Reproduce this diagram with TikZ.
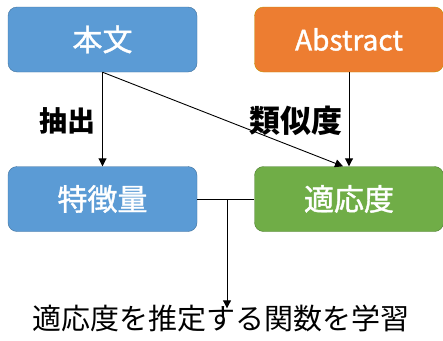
\documentclass[tikz,border=0pt]{standalone}
\usepackage{fontspec}
\setmainfont{Noto Sans CJK JP}
\newfontfamily\boxfont{Noto Sans CJK JP}[FakeBold=1.3]
\usetikzlibrary{arrows.meta}
\definecolor{bblue}{HTML}{5B9BD5}
\definecolor{bbluel}{HTML}{41719C}
\definecolor{borange}{HTML}{ED7D31}
\definecolor{borangel}{HTML}{C09000}
\definecolor{bgreen}{HTML}{70AD47}
\definecolor{bgreenl}{HTML}{507E32}
\tikzset{
  box/.style={rounded corners=9pt, minimum width=189pt, minimum height=65pt, inner sep=0pt, text=white, font=\boxfont\fontsize{30}{30}\selectfont},
  conn/.style={draw=black, line width=0.9pt},
  arr/.style={conn, -{Triangle[length=8pt,width=8pt]}},
  lbl/.style={font=\fontsize{28}{28}\selectfont\bfseries, text=black, inner sep=0pt}
}
\begin{document}
\begin{tikzpicture}[x=1pt,y=-1pt]
\useasboundingbox (0,0) rectangle (443,340);
\node[box, fill=bblue, draw=bbluel] (honbun) at (102.5,39.5) {本文};
\node[box, fill=borange, draw=borangel, font=\boxfont\fontsize{28}{28}\selectfont] (abs) at (349,39.5) {Abstract};
\node[box, fill=bblue, draw=bbluel] (feat) at (102.5,199) {特徴量};
\node[box, fill=bgreen, draw=bgreenl] (fit) at (349,199) {適応度};
\node[font=\fontsize{29}{29}\selectfont, inner sep=0pt] (goal) at (221,318) {適応度を推定する関数を学習};
\node[lbl] (l1) at (67,121) {抽出};
\node[lbl, font=\fontsize{31}{31}\selectfont\bfseries] (l2) at (296,121) {類似度};
\coordinate (hb) at (honbun.south);
\coordinate (ab) at (abs.south);
\coordinate (ft) at (feat.north);
\coordinate (fitn) at ([xshift=-6pt]fit.north);
\draw[arr] (hb) -- (ft);
\draw[arr] (hb) -- (fitn);
\draw[arr] (ab) -- (fit.north);
\coordinate (j) at (227,199);
\draw[conn] (feat.east) -- (fit.west);
\draw[arr] (j) -- ([yshift=-4pt]goal.north -| j);
\end{tikzpicture}
\end{document}
